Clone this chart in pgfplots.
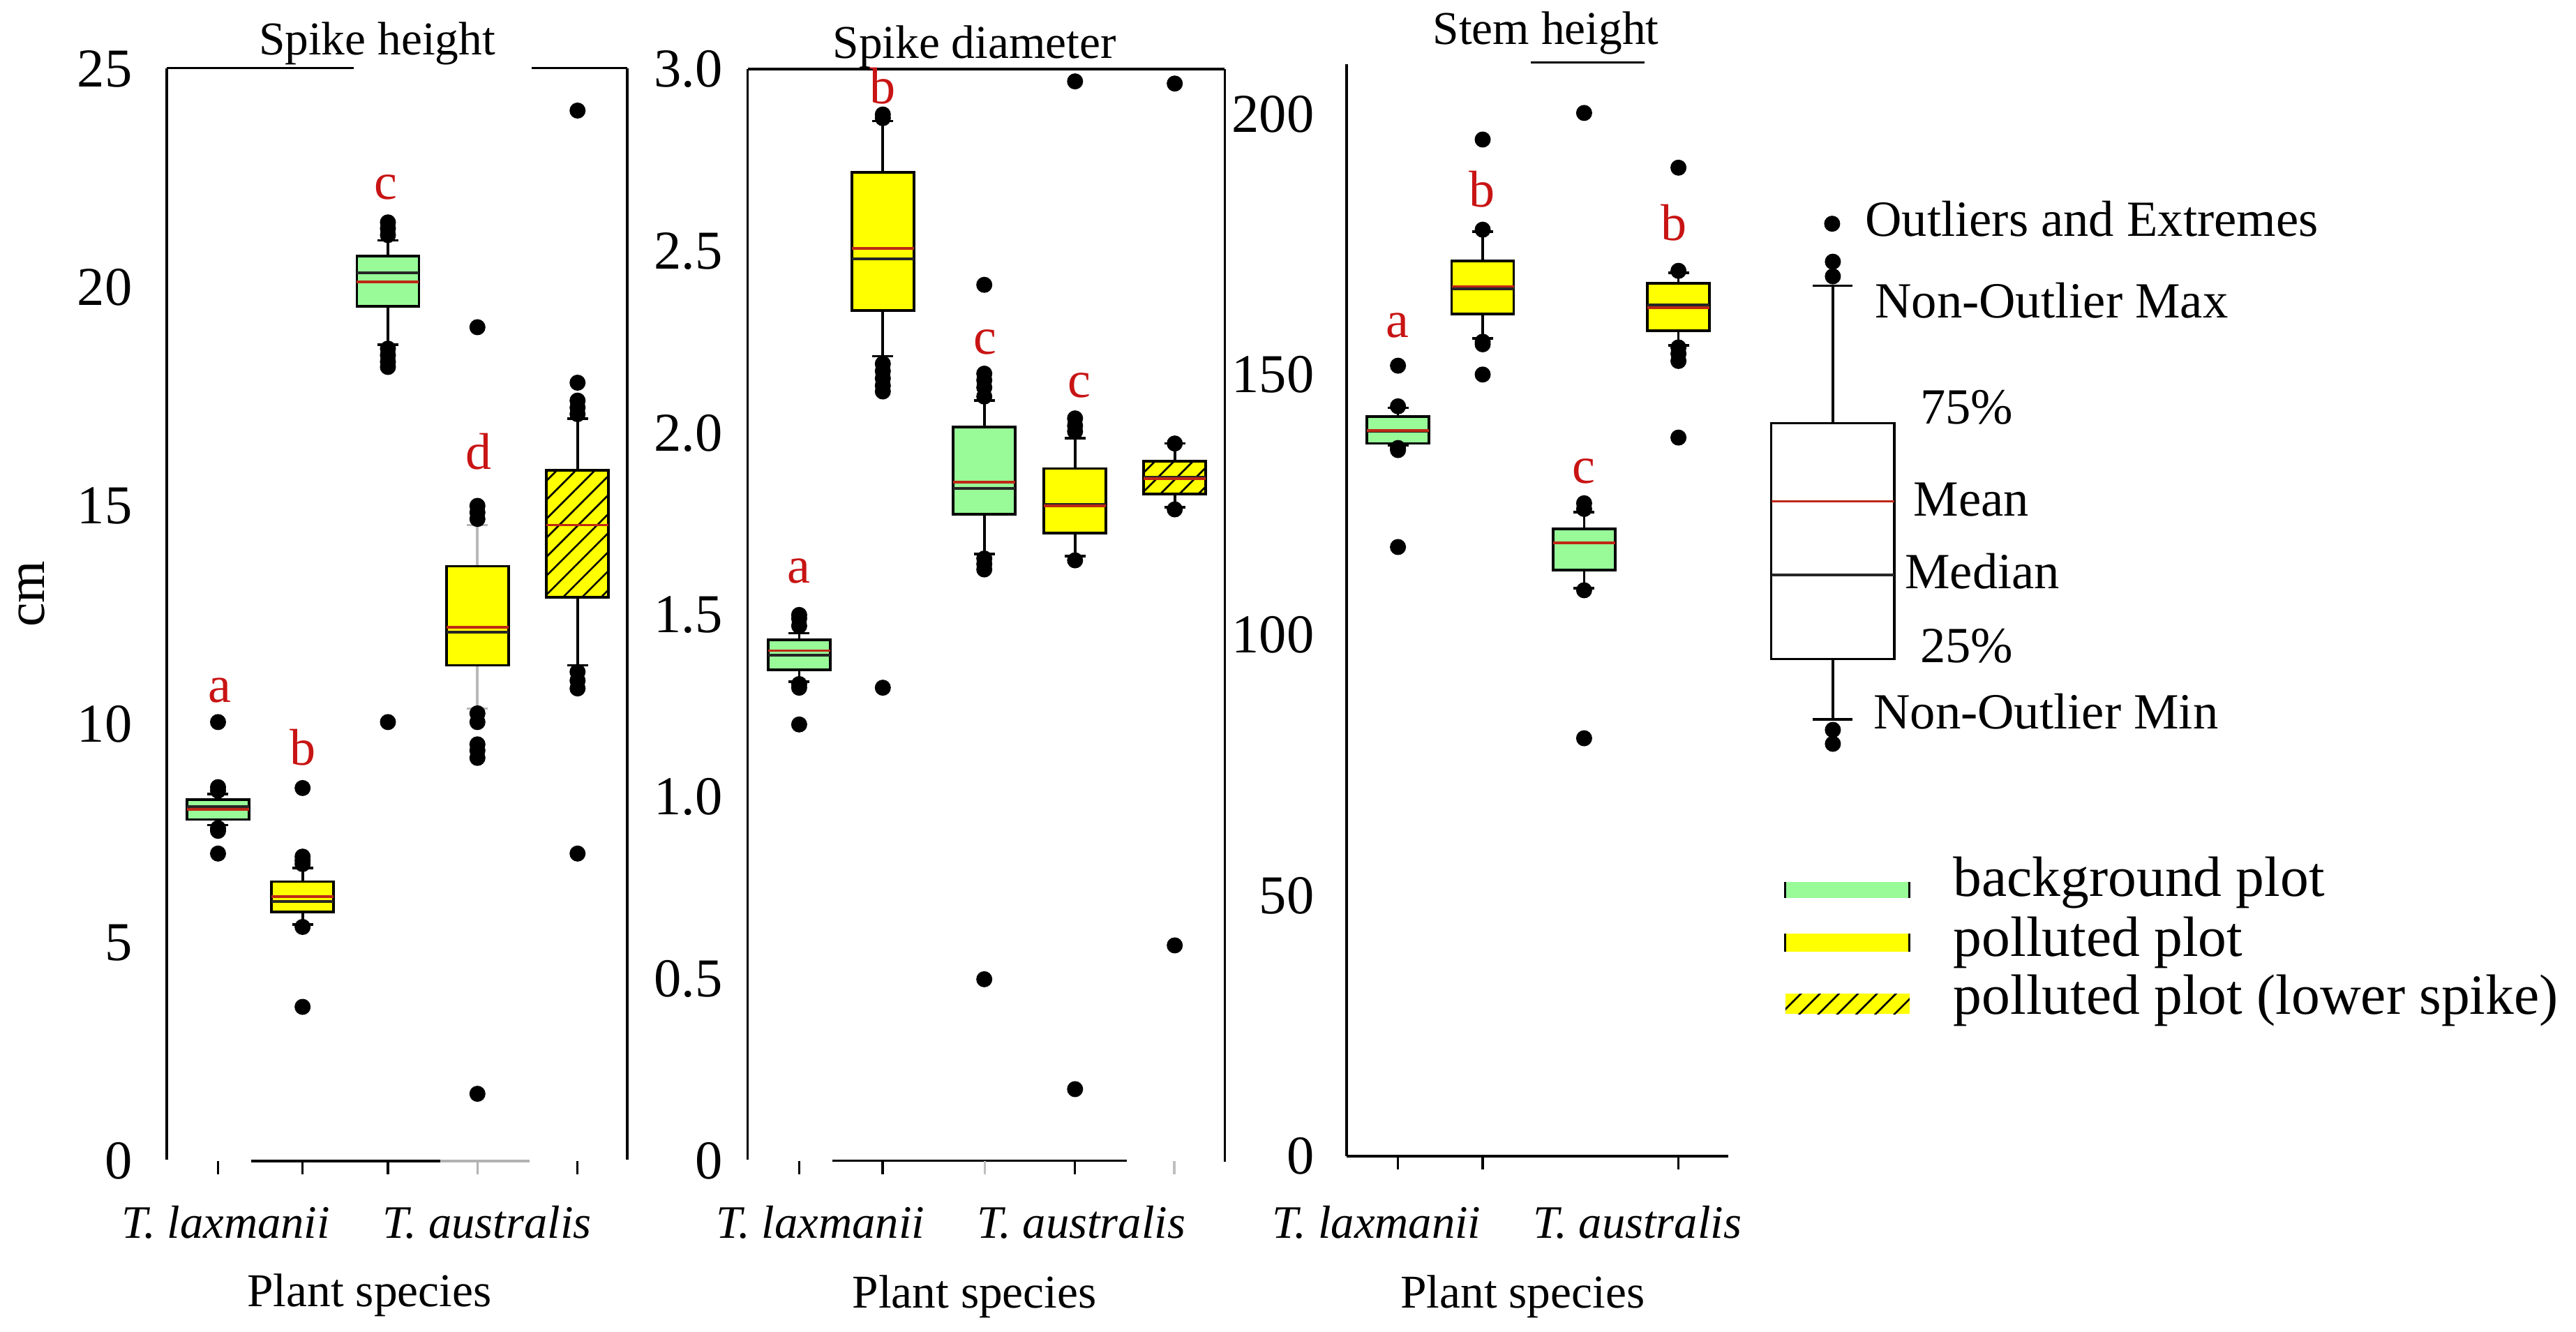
\documentclass[border=0pt]{standalone}
\usepackage{pgfplots}
\pgfplotsset{compat=1.18}
\usepgfplotslibrary{statistics}
\usetikzlibrary{patterns,patterns.meta}
\usepackage{fontspec}
\setmainfont{Liberation Serif}
\definecolor{bggreen}{RGB}{152,251,152}
\definecolor{polyellow}{RGB}{255,255,0}
\definecolor{letred}{RGB}{200,20,20}
\definecolor{meanred}{RGB}{190,40,20}

\tikzset{hatch/.style={pattern={Lines[angle=45,distance=2.6pt,line width=0.35pt]}, pattern color=black}}
\pgfplotsset{
  boxplot/draw direction=y,
  panel/.style={scale only axis, clip=false, axis line style={draw=none}, disabledatascaling,
    xtick=\empty, ytick style={draw=none},
    yticklabel style={font=\fontsize{10.6}{12}\selectfont, inner sep=0pt, anchor=east},
    /pgf/number format/assume math mode=true, anchor=south west,
    boxplot/box extend=89, boxplot/whisker extend=30},
  boxplot/draw/average/.code={\draw[meanred, line width=0.5pt] (boxplot box cs:\pgfplotsboxplotvalue{average},0) -- (boxplot box cs:\pgfplotsboxplotvalue{average},1);},
  boxplot/every median/.style={black!85, line width=0.5pt},
}
% fill, position, lower whisker, lower quartile, median, upper quartile, upper whisker, mean
\newcommand{\bx}[8]{\addplot[draw=black, line width=0.5pt, fill=#1,
  boxplot prepared={draw direction=y, draw position=#2, lower whisker=#3, lower quartile=#4, median=#5,
  upper quartile=#6, upper whisker=#7, average=#8}] coordinates {};}
\newcommand{\hbx}[7]{\addplot[draw=black, line width=0.5pt, fill=polyellow,
  boxplot/every box/.style={postaction={hatch}},
  boxplot prepared={draw direction=y, draw position=#1, lower whisker=#2, lower quartile=#3, median=#4,
  upper quartile=#5, upper whisker=#6, average=#7}] coordinates {};}

\begin{document}
\begin{tikzpicture}
% ---------- overlay axis in pixel units (frames, texts, legend) ----------
\begin{axis}[scale only axis, hide axis, clip=false, disabledatascaling, width=498.42pt, height=257.58pt,
  at={(0pt,0pt)}, anchor=south west, xmin=0, xmax=3692, ymin=0, ymax=1908]
% frames panel 1
\draw[line width=0.45pt] (axis cs:239,1810.4) -- (axis cs:507,1810.4);
\draw[line width=0.45pt] (axis cs:762,1810.4) -- (axis cs:899,1810.4);
\draw[line width=0.45pt] (axis cs:239,1810.4) -- (axis cs:239,246);
\draw[line width=0.45pt] (axis cs:899,1810.4) -- (axis cs:899,246);
\draw[line width=0.45pt] (axis cs:360,244) -- (axis cs:631,244);
\draw[line width=0.45pt, gray!60] (axis cs:631,244) -- (axis cs:759,244);
\draw[line width=0.45pt] (axis cs:312.5,244) -- (axis cs:312.5,225);
\draw[line width=0.45pt] (axis cs:433.7,244) -- (axis cs:433.7,225);
\draw[line width=0.45pt] (axis cs:556,244) -- (axis cs:556,225);
\draw[line width=0.45pt, gray!60] (axis cs:684.3,244) -- (axis cs:684.3,225);
\draw[line width=0.45pt] (axis cs:827.8,244) -- (axis cs:827.8,225);
% frames panel 2
\draw[line width=0.45pt] (axis cs:1071.7,1809) -- (axis cs:1755.5,1809);
\draw[line width=0.45pt] (axis cs:1071.7,1809) -- (axis cs:1071.7,246);
\draw[line width=0.45pt] (axis cs:1755.5,1809) -- (axis cs:1755.5,243);
\draw[line width=0.45pt] (axis cs:1193,244.3) -- (axis cs:1615,244.3);
\draw[line width=0.45pt] (axis cs:1145.4,244.3) -- (axis cs:1145.4,225);
\draw[line width=0.45pt] (axis cs:1265,244.3) -- (axis cs:1265,225);
\draw[line width=0.45pt, gray!50] (axis cs:1411.5,244.3) -- (axis cs:1411.5,225);
\draw[line width=0.45pt] (axis cs:1540.5,244.3) -- (axis cs:1540.5,225);
\draw[line width=0.45pt, gray!50] (axis cs:1683,244.3) -- (axis cs:1683,225);
% frames panel 3
\draw[line width=0.45pt] (axis cs:1930,1816.3) -- (axis cs:1930,251);
\draw[line width=0.45pt] (axis cs:2194,1818.7) -- (axis cs:2357,1818.7);
\draw[line width=0.45pt] (axis cs:1930,251) -- (axis cs:2477,251);
\draw[line width=0.45pt] (axis cs:2003.6,251) -- (axis cs:2003.6,232);
\draw[line width=0.45pt] (axis cs:2125,251) -- (axis cs:2125,232);
\draw[line width=0.45pt] (axis cs:2405.6,251) -- (axis cs:2405.6,232);
% titles
\node[font=\fontsize{9.1}{11}\selectfont, anchor=base, inner sep=0pt] at (axis cs:540.5,1830) {Spike height};
\node[font=\fontsize{9.1}{11}\selectfont, anchor=base, inner sep=0pt] at (axis cs:1396.7,1825) {Spike diameter};
\node[font=\fontsize{9.1}{11}\selectfont, anchor=base, inner sep=0pt] at (axis cs:2215.6,1844.2) {Stem height};
% x labels
\node[font=\fontsize{9.1}{11}\selectfont, anchor=base, inner sep=0pt] at (axis cs:529.4,36) {Plant species};
\node[font=\fontsize{9.1}{11}\selectfont, anchor=base, inner sep=0pt] at (axis cs:1396.7,34) {Plant species};
\node[font=\fontsize{9.1}{11}\selectfont, anchor=base, inner sep=0pt] at (axis cs:2182.4,34) {Plant species};
\node[font=\fontsize{9}{11}\selectfont\itshape, anchor=base, inner sep=0pt] at (axis cs:323.6,133.7) {T. laxmanii};
\node[font=\fontsize{9}{11}\selectfont\itshape, anchor=base, inner sep=0pt] at (axis cs:698.3,133.7) {T. australis};
\node[font=\fontsize{9}{11}\selectfont\itshape, anchor=base, inner sep=0pt] at (axis cs:1176,133.7) {T. laxmanii};
\node[font=\fontsize{9}{11}\selectfont\itshape, anchor=base, inner sep=0pt] at (axis cs:1549.8,133.7) {T. australis};
\node[font=\fontsize{9}{11}\selectfont\itshape, anchor=base, inner sep=0pt] at (axis cs:1973.2,133.7) {T. laxmanii};
\node[font=\fontsize{9}{11}\selectfont\itshape, anchor=base, inner sep=0pt] at (axis cs:2346.9,133.7) {T. australis};
\node[font=\fontsize{10.5}{12}\selectfont, rotate=90, inner sep=0pt] at (axis cs:46,1057) {cm};
% significance letters
\begin{scope}[every node/.style={font=\fontsize{10}{12}\selectfont, text=letred, anchor=base, inner sep=0pt}]
\node at (axis cs:315,902) {a};
\node at (axis cs:433.7,812) {b};
\node at (axis cs:553,1622.3) {c};
\node at (axis cs:685.6,1235.2) {d};
\node at (axis cs:1145.4,1072.5) {a};
\node at (axis cs:1265.3,1760) {b};
\node at (axis cs:1411.8,1401) {c};
\node at (axis cs:1547,1338.5) {c};
\node at (axis cs:2002.6,1424.6) {a};
\node at (axis cs:2123.7,1611.4) {b};
\node at (axis cs:2270.4,1216) {c};
\node at (axis cs:2399.3,1563.6) {b};
\end{scope}
% boxplot key
\addplot[draw=black, line width=0.5pt, fill=white,
  boxplot prepared={draw direction=y, draw position=2627, lower whisker=877.3, lower quartile=963.5, median=1084,
  upper quartile=1301.6, upper whisker=1498.5, average=1189.6, box extend=176.6, whisker extend=57}] coordinates {};
\addplot[only marks, mark=*, mark size=1.35pt, black] coordinates {(2626,1587.4) (2627,1533) (2627,1512) (2627,862) (2627,842)};
\begin{scope}[every node/.style={font=\fontsize{9.8}{12}\selectfont, anchor=base west, inner sep=0pt}]
\node at (axis cs:2672,1570) {Outliers and Extremes};
\node at (axis cs:2686,1452.5) {Non-Outlier Max};
\node at (axis cs:2751,1300.4) {75\%};
\node at (axis cs:2741.5,1168.4) {Mean};
\node at (axis cs:2729,1065) {Median};
\node at (axis cs:2751,959) {25\%};
\node at (axis cs:2684,864) {Non-Outlier Min};
\end{scope}
% colour key
\fill[bggreen] (axis cs:2559,621.4) rectangle (axis cs:2737,644.4);
\draw[line width=0.4pt] (axis cs:2559,621.4) -- (axis cs:2559,644.4);
\draw[line width=0.4pt] (axis cs:2737,621.4) -- (axis cs:2737,644.4);
\fill[polyellow] (axis cs:2559,544.5) rectangle (axis cs:2737,570.3);
\draw[line width=0.4pt] (axis cs:2559,544.5) -- (axis cs:2559,570.3);
\draw[line width=0.4pt] (axis cs:2737,544.5) -- (axis cs:2737,570.3);
\fill[polyellow] (axis cs:2559,455) rectangle (axis cs:2737,483.7);
\fill[hatch] (axis cs:2559,455) rectangle (axis cs:2737,483.7);
\begin{scope}[every node/.style={font=\fontsize{11}{13}\selectfont, anchor=base west, inner sep=0pt}]
\node at (axis cs:2798.5,624) {background plot};
\node at (axis cs:2798.5,538) {polluted plot};
\node at (axis cs:2798.5,455) {polluted plot (lower spike)};
\end{scope}
\end{axis}

% ---------- panel 1: spike height ----------
\begin{axis}[panel, at={(32.265pt,32.94pt)}, width=89.1pt, height=211.275pt,
  xmin=239, xmax=899, ymin=0, ymax=25,
  ytick={0,5,10,15,20,25}, yticklabels={0,5,10,15,20,25},
  yticklabel style={xshift=-6.5pt}]
\bx{bggreen}{312.5}{7.69}{7.82}{8.12}{8.27}{8.40}{8.05}
\bx{polyellow}{433.7}{5.41}{5.70}{5.94}{6.40}{6.71}{6.06}
\bx{bggreen}{556}{18.69}{19.57}{20.34}{20.72}{21.08}{20.13}
\addplot[draw=black, line width=0.5pt, fill=polyellow, boxplot/every whisker/.style={gray!55},
  boxplot prepared={draw direction=y, draw position=684.3, lower whisker=10.36, lower quartile=11.35, median=12.11,
  upper quartile=13.62, upper whisker=14.56, average=12.22}] coordinates {};
\hbx{827.8}{11.35}{12.91}{14.56}{15.81}{17.0}{14.56}
\addplot[only marks, mark=*, mark size=1.35pt, black] coordinates {
 (312.5,8.48) (312.5,8.56) (312.5,10.05) (312.5,7.62) (312.5,7.56) (312.5,7.04)
 (433.7,6.80) (433.7,6.88) (433.7,6.97) (433.7,8.54) (433.7,5.36) (433.7,3.53)
 (556,21.2) (556,21.35) (556,21.49) (556,18.6) (556,18.45) (556,18.3) (556,18.18) (556,10.05)
 (684.3,19.09) (684.3,14.7) (684.3,14.85) (684.3,15.0) (684.3,10.25) (684.3,10.05)
 (684.3,9.54) (684.3,9.4) (684.3,9.23) (684.3,1.54)
 (827.8,24.05) (827.8,17.82) (827.8,17.1) (827.8,17.25) (827.8,17.41)
 (827.8,11.2) (827.8,11.0) (827.8,10.82) (827.8,7.04)};
\end{axis}

% ---------- panel 2: spike diameter (x in tens of pixels, offset 1000) ----------
\begin{axis}[panel, at={(144.68pt,32.98pt)}, width=92.31pt, height=211.25pt,
  xmin=7.17, xmax=75.55, ymin=0, ymax=3.0,
  boxplot/box extend=8.9, boxplot/whisker extend=3.0,
  ytick={0,0.5,1.0,1.5,2.0,2.5,3.0}, yticklabels={0,0.5,1.0,1.5,2.0,2.5,3.0},
  yticklabel style={xshift=-4.7pt}]
\bx{bggreen}{14.54}{1.316}{1.349}{1.39}{1.431}{1.45}{1.402}
\bx{polyellow}{26.53}{2.211}{2.336}{2.478}{2.716}{2.857}{2.507}
\bx{bggreen}{41.07}{1.667}{1.777}{1.847}{2.016}{2.089}{1.865}
\bx{polyellow}{54.08}{1.661}{1.725}{1.804}{1.902}{1.985}{1.80}
\hbx{68.37}{1.796}{1.832}{1.878}{1.922}{1.971}{1.875}
\addplot[only marks, mark=*, mark size=1.35pt, black] coordinates {
 (14.54,1.47) (14.54,1.49) (14.54,1.50) (14.54,1.31) (14.54,1.30) (14.54,1.199)
 (26.53,2.865) (26.53,2.875) (26.53,2.19) (26.53,2.17) (26.53,2.15) (26.53,2.13) (26.53,2.114) (26.53,1.300)
 (41.07,2.10) (41.07,2.125) (41.07,2.145) (41.07,2.163) (41.07,2.407) (41.07,1.655) (41.07,1.64) (41.07,1.625) (41.07,0.499)
 (54.08,2.004) (54.08,2.02) (54.08,2.04) (54.08,2.966) (54.08,1.65) (54.08,0.197)
 (68.37,1.971) (68.37,1.79) (68.37,2.960) (68.37,0.592)};
\end{axis}

% ---------- panel 3: stem height ----------
\begin{axis}[panel, at={(260.55pt,33.885pt)}, width=73.845pt, height=211.32pt,
  xmin=1930, xmax=2477, ymin=0, ymax=209.6,
  ytick={0,50,100,150,200}, yticklabels={0,50,100,150,200},
  yticklabel style={xshift=-6.1pt}]
\bx{bggreen}{2003.6}{136.4}{136.8}{139.1}{141.9}{143.6}{139.3}
\bx{polyellow}{2125}{156.9}{161.6}{166.4}{171.8}{177.4}{166.9}
\bx{bggreen}{2270.4}{109.0}{112.5}{117.7}{120.4}{123.6}{117.7}
\bx{polyellow}{2405.6}{155.6}{158.4}{163.4}{167.5}{169.5}{162.8}
\addplot[only marks, mark=*, mark size=1.35pt, black] coordinates {
 (2003.6,143.9) (2003.6,151.7) (2003.6,135.9) (2003.6,135.5) (2003.6,116.9)
 (2125,177.8) (2125,195.1) (2125,156.3) (2125,155.8) (2125,150.0)
 (2270.4,124.2) (2270.4,125.3) (2270.4,200.2) (2270.4,108.6) (2270.4,80.2)
 (2405.6,169.9) (2405.6,189.7) (2405.6,155.2) (2405.6,154.0) (2405.6,152.6) (2405.6,137.9)};
\end{axis}
\pgfresetboundingbox
\path[use as bounding box] (0pt,0pt) rectangle (498.42pt,257.58pt);
\end{tikzpicture}
\end{document}
